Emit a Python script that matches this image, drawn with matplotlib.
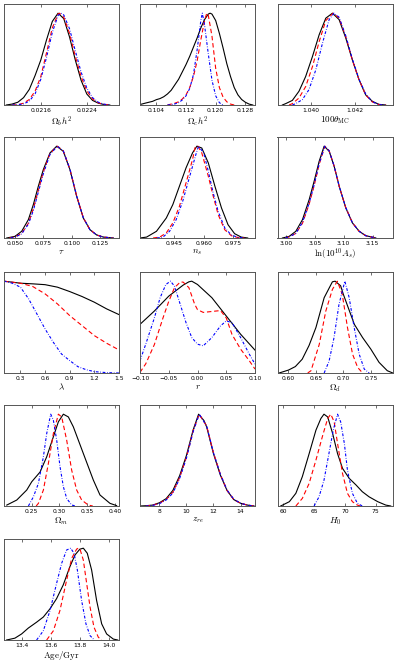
import matplotlib
matplotlib.use("Agg")
import matplotlib.pyplot as plt

plt.rcParams['mathtext.fontset'] = 'cm'
plt.rcParams['font.family'] = 'DejaVu Sans'

# =========================================================
# 1D marginal posteriors (peak-normalised)
# black: solid, red: dashed, blue: dash-dot
# =========================================================
obh2_black = [(0.02100, 0), (0.02110, 0.01), (0.02120, 0.03), (0.02130, 0.08), (0.02140, 0.17),
              (0.02150, 0.32), (0.02160, 0.49), (0.02170, 0.71), (0.02180, 0.91), (0.02190, 1.0),
              (0.02200, 0.94), (0.02210, 0.74), (0.02220, 0.49), (0.02230, 0.27), (0.02240, 0.12),
              (0.02250, 0.05), (0.02260, 0.02), (0.02270, 0.005), (0.02280, 0)]
obh2_red = [(0.02110, 0), (0.02120, 0.003), (0.02130, 0.02), (0.02140, 0.06), (0.02150, 0.15),
            (0.02160, 0.31), (0.02170, 0.57), (0.02180, 0.84), (0.02190, 0.99), (0.021925, 1.0),
            (0.02200, 0.955), (0.02210, 0.78), (0.02220, 0.53), (0.02230, 0.31), (0.02240, 0.155),
            (0.02250, 0.065), (0.02260, 0.023), (0.02270, 0.007), (0.02280, 0)]
obh2_blue = [(0.02110, 0), (0.02120, 0.003), (0.02130, 0.012), (0.02140, 0.042), (0.02150, 0.12),
             (0.02160, 0.28), (0.02170, 0.52), (0.02180, 0.79), (0.02190, 0.975), (0.02195, 1.0),
             (0.02200, 0.98), (0.02210, 0.83), (0.02220, 0.59), (0.02230, 0.36), (0.02240, 0.185),
             (0.02250, 0.08), (0.02260, 0.03), (0.02270, 0.009), (0.02280, 0)]

och2_black = [(0.0996, 0.005), (0.101, 0.02), (0.102, 0.03), (0.103, 0.04), (0.104, 0.058), (0.105, 0.07),
              (0.106, 0.09), (0.107, 0.12), (0.108, 0.16), (0.109, 0.22), (0.110, 0.28), (0.111, 0.36),
              (0.112, 0.44), (0.113, 0.53), (0.114, 0.63), (0.115, 0.73), (0.116, 0.84), (0.117, 0.93),
              (0.118, 0.99), (0.1185, 1.0), (0.119, 0.99), (0.120, 0.92), (0.121, 0.78), (0.122, 0.62),
              (0.123, 0.45), (0.124, 0.31), (0.125, 0.19), (0.126, 0.11), (0.127, 0.06), (0.128, 0.03),
              (0.129, 0.01), (0.130, 0.0)]
och2_red = [(0.107, 0), (0.108, 0.01), (0.109, 0.02), (0.110, 0.035), (0.111, 0.065), (0.112, 0.11),
            (0.113, 0.19), (0.114, 0.31), (0.115, 0.48), (0.116, 0.71), (0.117, 0.92), (0.1176, 1.0),
            (0.118, 0.98), (0.119, 0.75), (0.120, 0.40), (0.121, 0.19), (0.122, 0.085), (0.123, 0.035),
            (0.124, 0.01), (0.125, 0)]
och2_blue = [(0.107, 0), (0.108, 0.005), (0.109, 0.012), (0.110, 0.025), (0.111, 0.055), (0.112, 0.10),
             (0.113, 0.18), (0.114, 0.33), (0.115, 0.60), (0.116, 0.92), (0.1164, 1.0), (0.117, 0.87),
             (0.118, 0.56), (0.119, 0.27), (0.120, 0.10), (0.121, 0.025), (0.122, 0)]

theta_black = [(1.03872, 0.0), (1.03887, 0.015), (1.03917, 0.05), (1.03947, 0.15), (1.03977, 0.31),
               (1.04008, 0.53), (1.04038, 0.765), (1.04068, 0.946), (1.04098, 1.0), (1.04128, 0.93),
               (1.04158, 0.73), (1.04188, 0.49), (1.04218, 0.275), (1.04248, 0.11), (1.04278, 0.04),
               (1.04308, 0.007), (1.04338, 0.0)]
theta_red = [(1.03902, 0.0), (1.03917, 0.015), (1.03947, 0.076), (1.03977, 0.2), (1.04008, 0.42),
             (1.04038, 0.69), (1.04068, 0.92), (1.04101, 1.0), (1.04128, 0.946), (1.04158, 0.746),
             (1.04188, 0.49), (1.04218, 0.275), (1.04248, 0.11), (1.04278, 0.033), (1.04308, 0.004),
             (1.04338, 0.0)]
theta_blue = [(1.03917, 0.0), (1.03932, 0.015), (1.03962, 0.058), (1.03992, 0.167), (1.04023, 0.384),
              (1.04053, 0.674), (1.04083, 0.93), (1.04105, 1.0), (1.04128, 0.956), (1.04158, 0.754),
              (1.04188, 0.5), (1.04218, 0.28), (1.04248, 0.12), (1.04278, 0.036), (1.04308, 0.004),
              (1.04338, 0.0)]

tau_black = [(0.0427, 0.0), (0.0500, 0.018), (0.0559, 0.073), (0.0618, 0.2), (0.0662, 0.364),
             (0.0706, 0.564), (0.0750, 0.745), (0.0809, 0.927), (0.0868, 1.0), (0.0926, 0.945),
             (0.0985, 0.745), (0.1044, 0.455), (0.1103, 0.218), (0.1162, 0.09), (0.1221, 0.033),
             (0.1279, 0.01), (0.1368, 0.0)]
tau_red = [(0.0450, 0.0), (0.0500, 0.012), (0.0559, 0.05), (0.0618, 0.16), (0.0662, 0.32),
           (0.0706, 0.52), (0.0750, 0.72), (0.0809, 0.92), (0.0874, 1.0), (0.0926, 0.95),
           (0.0985, 0.75), (0.1044, 0.46), (0.1103, 0.22), (0.1162, 0.09), (0.1221, 0.033),
           (0.1279, 0.01), (0.1368, 0.0)]
tau_blue = [(0.0460, 0.0), (0.0500, 0.01), (0.0559, 0.045), (0.0618, 0.15), (0.0662, 0.30),
            (0.0706, 0.50), (0.0750, 0.70), (0.0809, 0.91), (0.0874, 1.0), (0.0926, 0.95),
            (0.0985, 0.75), (0.1044, 0.46), (0.1103, 0.22), (0.1162, 0.09), (0.1221, 0.033),
            (0.1279, 0.01), (0.1368, 0.0)]

ns_black = [(0.9273, 0.0), (0.93069, 0.01), (0.93575, 0.073), (0.9408, 0.218), (0.94414, 0.364),
            (0.94753, 0.564), (0.95092, 0.764), (0.95425, 0.927), (0.95648, 1.0), (0.9590, 0.98),
            (0.96234, 0.818), (0.96573, 0.564), (0.96911, 0.327), (0.97245, 0.145), (0.97584, 0.047),
            (0.97923, 0.01), (0.98256, 0.0)]
ns_red = [(0.9340, 0.0), (0.93742, 0.01), (0.9408, 0.055), (0.94414, 0.164), (0.94753, 0.345),
          (0.95092, 0.6), (0.95425, 0.855), (0.95562, 0.99), (0.9570, 1.0), (0.9590, 0.927),
          (0.96234, 0.673), (0.96487, 0.455), (0.9674, 0.255), (0.97078, 0.09), (0.97417, 0.025),
          (0.9775, 0.005), (0.9809, 0.0)]
ns_blue = [(0.9360, 0.0), (0.93909, 0.01), (0.94247, 0.073), (0.94586, 0.2), (0.9492, 0.4),
           (0.95258, 0.655), (0.95597, 0.91), (0.95731, 1.0), (0.9600, 0.927), (0.96234, 0.727),
           (0.96487, 0.49), (0.9674, 0.29), (0.97078, 0.11), (0.97417, 0.033), (0.9775, 0.007),
           (0.9809, 0.0)]

as_black = [(2.9942, 0.0), (3.0058, 0.018), (3.0173, 0.073), (3.0288, 0.2), (3.0404, 0.418),
            (3.0490, 0.618), (3.0577, 0.836), (3.0663, 1.0), (3.0750, 0.945), (3.0836, 0.782),
            (3.0923, 0.564), (3.1038, 0.327), (3.1153, 0.164), (3.1269, 0.073), (3.1384, 0.025),
            (3.1557, 0.0)]
as_red = [(2.9990, 0.0), (3.0058, 0.012), (3.0173, 0.05), (3.0288, 0.16), (3.0404, 0.37),
          (3.0490, 0.57), (3.0577, 0.8), (3.0675, 1.0), (3.0750, 0.95), (3.0836, 0.785),
          (3.0923, 0.565), (3.1038, 0.33), (3.1153, 0.165), (3.1269, 0.073), (3.1384, 0.025),
          (3.1557, 0.0)]
as_blue = [(2.9990, 0.0), (3.0058, 0.012), (3.0173, 0.05), (3.0288, 0.17), (3.0404, 0.38),
           (3.0490, 0.58), (3.0577, 0.81), (3.0675, 1.0), (3.0750, 0.95), (3.0836, 0.785),
           (3.0923, 0.565), (3.1038, 0.33), (3.1153, 0.165), (3.1269, 0.073), (3.1384, 0.025),
           (3.1557, 0.0)]

lam_black = [(0.1, 1.0), (0.3, 0.978), (0.45, 0.971), (0.6, 0.962), (0.75, 0.935), (0.9, 0.887),
             (1.05, 0.833), (1.2, 0.771), (1.35, 0.698), (1.5, 0.636)]
lam_red = [(0.1, 1.0), (0.3, 0.978), (0.45, 0.942), (0.6, 0.862), (0.75, 0.753), (0.9, 0.625),
           (1.05, 0.516), (1.2, 0.407), (1.35, 0.324), (1.5, 0.251)]
lam_blue = [(0.1, 1.0), (0.2, 0.978), (0.3, 0.935), (0.4, 0.807), (0.5, 0.644), (0.6, 0.48),
            (0.7, 0.335), (0.8, 0.207), (0.9, 0.135), (1.0, 0.069), (1.1, 0.036), (1.2, 0.015),
            (1.35, 0.004), (1.5, 0.0)]

r_black = [(-0.10, 0.53), (-0.075, 0.675), (-0.05, 0.837), (-0.025, 0.957), (-0.015, 0.993),
           (-0.01, 1.0), (0.0, 0.964), (0.025, 0.82), (0.05, 0.621), (0.075, 0.422), (0.10, 0.249)]
r_red = [(-0.10, 0.007), (-0.09, 0.1), (-0.075, 0.31), (-0.06, 0.60), (-0.05, 0.78), (-0.04, 0.93),
         (-0.03, 0.99), (-0.025, 0.99), (-0.015, 0.93), (-0.005, 0.75), (0.0, 0.69), (0.01, 0.66),
         (0.025, 0.67), (0.04, 0.68), (0.05, 0.60), (0.06, 0.42), (0.075, 0.26), (0.09, 0.134),
         (0.10, 0.043)]
r_blue = [(-0.10, 0.134), (-0.09, 0.314), (-0.075, 0.60), (-0.065, 0.82), (-0.055, 0.964),
          (-0.047, 1.0), (-0.04, 0.946), (-0.03, 0.747), (-0.02, 0.549), (-0.01, 0.386), (0.0, 0.314),
          (0.01, 0.296), (0.025, 0.386), (0.04, 0.513), (0.05, 0.567), (0.06, 0.549), (0.075, 0.386),
          (0.09, 0.206), (0.10, 0.097)]

od_black = [(0.583, 0.0), (0.60, 0.032), (0.6125, 0.07), (0.625, 0.15), (0.6375, 0.30), (0.65, 0.495),
            (0.665, 0.82), (0.68, 0.993), (0.685, 1.0), (0.695, 0.95), (0.70, 0.856), (0.71, 0.693),
            (0.72, 0.53), (0.735, 0.386), (0.75, 0.26), (0.765, 0.116), (0.78, 0.025), (0.79, 0.0)]
od_red = [(0.635, 0.0), (0.641, 0.025), (0.656, 0.31), (0.668, 0.675), (0.68, 0.91), (0.689, 1.0),
          (0.698, 0.856), (0.7075, 0.495), (0.7167, 0.206), (0.726, 0.061), (0.735, 0.0)]
od_blue = [(0.665, 0.0), (0.674, 0.13), (0.683, 0.386), (0.692, 0.747), (0.7027, 1.0), (0.7106, 0.82),
           (0.7197, 0.495), (0.7288, 0.206), (0.738, 0.043), (0.747, 0.0)]

om_black = [(0.205, 0.01), (0.223, 0.065), (0.241, 0.174), (0.25, 0.264), (0.265, 0.37), (0.277, 0.536),
            (0.289, 0.754), (0.298, 0.917), (0.307, 1.0), (0.316, 0.97), (0.325, 0.862), (0.343, 0.572),
            (0.361, 0.283), (0.373, 0.12), (0.391, 0.029), (0.403, 0.004)]
om_red = [(0.258, 0.0), (0.262, 0.029), (0.271, 0.174), (0.28, 0.464), (0.289, 0.79), (0.298, 1.0),
          (0.304, 0.97), (0.313, 0.717), (0.322, 0.39), (0.331, 0.174), (0.34, 0.065), (0.352, 0.01),
          (0.36, 0.0)]
om_blue = [(0.244, 0.0), (0.253, 0.1), (0.262, 0.246), (0.271, 0.536), (0.277, 0.79), (0.2842, 1.0),
           (0.289, 0.935), (0.295, 0.717), (0.301, 0.428), (0.307, 0.21), (0.313, 0.083), (0.322, 0.01),
           (0.33, 0.0)]

zre_black = [(6.6, 0.0), (7.0, 0.003), (7.5, 0.01), (8.0, 0.035), (8.5, 0.08), (9.0, 0.17), (9.5, 0.33),
             (10.0, 0.55), (10.5, 0.83), (10.9, 1.0), (11.3, 0.93), (11.5, 0.86), (12.0, 0.57), (12.5, 0.34),
             (13.0, 0.17), (13.5, 0.07), (14.0, 0.03), (14.5, 0.01), (15.0, 0.0)]
zre_red = [(7.0, 0.0), (7.5, 0.008), (8.0, 0.03), (8.5, 0.07), (9.0, 0.15), (9.5, 0.31), (10.0, 0.53),
           (10.5, 0.82), (10.95, 1.0), (11.5, 0.87), (12.0, 0.58), (12.5, 0.35), (13.0, 0.17), (13.5, 0.07),
           (14.0, 0.03), (14.5, 0.01), (15.0, 0.0)]
zre_blue = [(7.0, 0.0), (7.5, 0.006), (8.0, 0.025), (8.5, 0.065), (9.0, 0.14), (9.5, 0.3), (10.0, 0.52),
            (10.5, 0.81), (10.95, 1.0), (11.5, 0.87), (12.0, 0.58), (12.5, 0.35), (13.0, 0.175),
            (13.5, 0.075), (14.0, 0.03), (14.5, 0.01), (15.0, 0.0)]

h0_black = [(59.6, 0.0), (61.0, 0.047), (62.05, 0.138), (63.1, 0.32), (64.2, 0.57), (65.3, 0.826),
            (66.1, 0.953), (66.6, 1.0), (67.2, 0.97), (68.0, 0.79), (68.8, 0.57), (69.6, 0.41), (70.7, 0.30),
            (71.8, 0.228), (72.8, 0.156), (73.9, 0.10), (75.3, 0.047), (76.6, 0.01), (77.4, 0.0)]
h0_red = [(62.05, 0.0), (63.1, 0.083), (64.2, 0.246), (65.3, 0.50), (66.4, 0.77), (67.2, 0.953),
          (67.7, 1.0), (68.25, 0.917), (68.8, 0.68), (69.6, 0.355), (70.4, 0.138), (71.2, 0.047),
          (72.0, 0.01), (72.5, 0.0)]
h0_blue = [(65.0, 0.0), (65.8, 0.1), (66.6, 0.28), (67.4, 0.57), (68.1, 0.826), (68.8, 1.0), (69.3, 0.917),
           (69.9, 0.68), (70.4, 0.39), (71.2, 0.138), (72.0, 0.03), (72.8, 0.0)]

age_black = [(13.297, 0.0), (13.354, 0.02), (13.40, 0.066), (13.446, 0.13), (13.503, 0.194),
             (13.549, 0.25), (13.595, 0.34), (13.64, 0.45), (13.686, 0.6), (13.732, 0.8), (13.767, 0.927),
             (13.80, 0.989), (13.824, 1.0), (13.851, 0.945), (13.881, 0.762), (13.915, 0.432),
             (13.95, 0.176), (13.984, 0.066), (14.03, 0.01), (14.06, 0.0)]
age_red = [(13.572, 0.0), (13.618, 0.1), (13.663, 0.32), (13.709, 0.65), (13.744, 0.89), (13.778, 0.99),
           (13.79, 1.0), (13.801, 0.99), (13.824, 0.87), (13.847, 0.615), (13.87, 0.36), (13.897, 0.14),
           (13.927, 0.03), (13.95, 0.0)]
age_blue = [(13.503, 0.0), (13.549, 0.1), (13.595, 0.32), (13.64, 0.615), (13.675, 0.835),
            (13.709, 0.98), (13.737, 1.0), (13.76, 0.945), (13.783, 0.762), (13.812, 0.432),
            (13.842, 0.176), (13.87, 0.048), (13.90, 0.0)]

# axis labels, ranges and ticks per panel
labels = [r'$\Omega_b h^2$', r'$\Omega_c h^2$', r'$100\theta_{\rm MC}$',
          r'$\tau$', r'$n_s$', r'${\rm ln}(10^{10} A_s)$',
          r'$\lambda$', r'$r$', r'$\Omega_d$',
          r'$\Omega_m$', r'$z_{re}$', r'$H_0$',
          r'${\rm Age/Gyr}$']
xlims = [(0.02096, 0.02296), (0.0996, 0.1306), (1.0385, 1.04369),
         (0.0403, 0.1418), (0.9273, 0.9863), (2.9856, 3.1846),
         (0.1, 1.5), (-0.1, 0.1), (0.58, 0.7895),
         (0.20, 0.4073), (6.57, 15.07), (59.08, 77.69),
         (13.279, 14.069)]
ticks = [[0.0216, 0.0224], [0.104, 0.112, 0.120, 0.128], [1.040, 1.042],
         [0.050, 0.075, 0.100, 0.125], [0.945, 0.960, 0.975], [3.00, 3.05, 3.10, 3.15],
         [0.3, 0.6, 0.9, 1.2, 1.5], [-0.10, -0.05, 0.00, 0.05, 0.10], [0.60, 0.65, 0.70, 0.75],
         [0.25, 0.30, 0.35, 0.40], [8, 10, 12, 14], [60, 65, 70, 75],
         [13.4, 13.6, 13.8, 14.0]]
ticklabels = [['0.0216', '0.0224'], ['0.104', '0.112', '0.120', '0.128'], ['1.040', '1.042'],
              ['0.050', '0.075', '0.100', '0.125'], ['0.945', '0.960', '0.975'],
              ['3.00', '3.05', '3.10', '3.15'],
              ['0.3', '0.6', '0.9', '1.2', '1.5'], ['\u22120.10', '\u22120.05', '0.00', '0.05', '0.10'],
              ['0.60', '0.65', '0.70', '0.75'],
              ['0.25', '0.30', '0.35', '0.40'], ['8', '10', '12', '14'], ['60', '65', '70', '75'],
              ['13.4', '13.6', '13.8', '14.0']]

curves = [(obh2_black, obh2_red, obh2_blue), (och2_black, och2_red, och2_blue),
          (theta_black, theta_red, theta_blue), (tau_black, tau_red, tau_blue),
          (ns_black, ns_red, ns_blue), (as_black, as_red, as_blue),
          (lam_black, lam_red, lam_blue), (r_black, r_red, r_blue),
          (od_black, od_red, od_blue), (om_black, om_red, om_blue),
          (zre_black, zre_red, zre_blue), (h0_black, h0_red, h0_blue),
          (age_black, age_red, age_blue)]

# =========================================================
# Figure
# =========================================================
W, H = 396, 665
fig = plt.figure(figsize=(W / 100, H / 100), dpi=100)

col_left = [4, 140, 277.5]
row_top = [4, 137, 272, 405, 539]
pw, ph = 115, 101

for i in range(13):
    r, c = divmod(i, 3)
    ax = fig.add_axes([col_left[c] / W, 1 - (row_top[r] + ph) / H, pw / W, ph / H])
    black, red, blue = curves[i]
    ax.plot([p[0] for p in black], [p[1] for p in black], color='black', lw=0.8)
    ax.plot([p[0] for p in red], [p[1] for p in red], color='red', lw=0.8, ls=(0, (4, 2.5)))
    ax.plot([p[0] for p in blue], [p[1] for p in blue], color='blue', lw=0.8, ls=(0, (2.5, 1.5, 0.6, 1.5)))
    ax.set_xlim(*xlims[i])
    ax.set_ylim(0, 1.1)
    ax.set_yticks([])
    ax.set_xticks(ticks[i])
    ax.set_xticklabels(ticklabels[i])
    ax.tick_params(axis='x', direction='in', top=True, length=2.5, width=0.5,
                   labelsize=4.3, pad=2, color='#333333')
    ax.set_xlabel(labels[i], fontsize=6.5, labelpad=1)
    for s in ax.spines.values():
        s.set_color('#555555')
        s.set_linewidth(0.7)

fig.savefig('out.png', dpi=100)
